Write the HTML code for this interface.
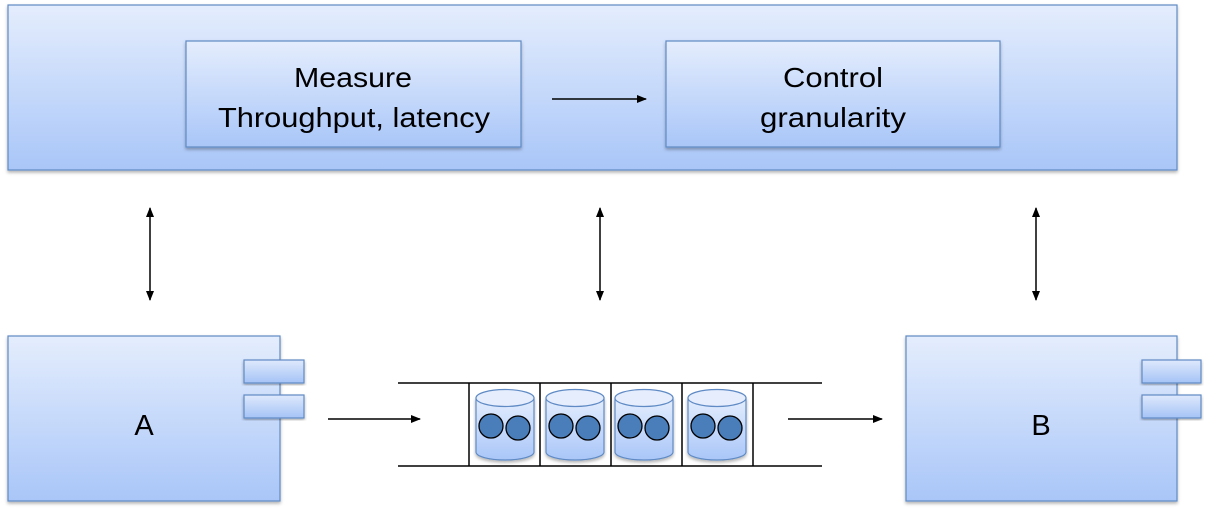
<!DOCTYPE html>
<html><head><meta charset="utf-8"><style>html,body{margin:0;padding:0;background:#fff}svg{display:block}</style></head>
<body>
<svg width="1210" height="514" viewBox="0 0 1210 514" xmlns="http://www.w3.org/2000/svg" font-family="Liberation Sans, sans-serif">
<defs>
<linearGradient id="g" x1="0" y1="0" x2="0" y2="1"><stop offset="0" stop-color="#e4edfd"/><stop offset="1" stop-color="#a9c6f8"/></linearGradient>
<linearGradient id="gp" x1="0" y1="0" x2="0" y2="1"><stop offset="0" stop-color="#dfe9fc"/><stop offset="1" stop-color="#a5c3f6"/></linearGradient>
<filter id="s" x="-5%" y="-5%" width="110%" height="115%"><feDropShadow dx="0" dy="2" stdDeviation="1.5" flood-color="#000" flood-opacity="0.3"/></filter>
<marker id="ah" viewBox="0 0 10 10" refX="9" refY="5" markerWidth="10" markerHeight="10" markerUnits="userSpaceOnUse" orient="auto-start-reverse"><path d="M0,1 L10,5 L0,9 z" fill="#000"/></marker>
</defs>
<rect x="8" y="5" width="1169" height="165" fill="url(#g)" stroke="#5f8ac4" stroke-width="1.2" filter="url(#s)"/>
<rect x="186" y="41" width="335" height="106" fill="url(#g)" stroke="#5f8ac4" stroke-width="1.2" filter="url(#s)"/>
<rect x="666" y="41" width="334" height="106" fill="url(#g)" stroke="#5f8ac4" stroke-width="1.2" filter="url(#s)"/>
<text x="294" y="87" font-size="28" textLength="118" lengthAdjust="spacingAndGlyphs">Measure</text>
<text x="218" y="127" font-size="28" textLength="272" lengthAdjust="spacingAndGlyphs">Throughput, latency</text>
<text x="783" y="87" font-size="28" textLength="100" lengthAdjust="spacingAndGlyphs">Control</text>
<text x="760" y="127" font-size="28" textLength="146" lengthAdjust="spacingAndGlyphs">granularity</text>
<g stroke="#000" stroke-width="1.5" fill="none">
<line x1="552" y1="99" x2="646" y2="99" marker-end="url(#ah)"/>
<line x1="150" y1="208" x2="150" y2="300" marker-start="url(#ah)" marker-end="url(#ah)"/>
<line x1="600" y1="208" x2="600" y2="300" marker-start="url(#ah)" marker-end="url(#ah)"/>
<line x1="1036" y1="208" x2="1036" y2="300" marker-start="url(#ah)" marker-end="url(#ah)"/>
<line x1="328" y1="419" x2="420" y2="419" marker-end="url(#ah)"/>
<line x1="788" y1="419" x2="882" y2="419" marker-end="url(#ah)"/>
</g>
<rect x="8" y="336" width="272" height="165" fill="url(#g)" stroke="#5f8ac4" stroke-width="1.2" filter="url(#s)"/>
<rect x="244" y="360" width="60" height="23" fill="url(#gp)" stroke="#5f8ac4" stroke-width="1.2" filter="url(#s)"/>
<rect x="244" y="395" width="60" height="23" fill="url(#gp)" stroke="#5f8ac4" stroke-width="1.2" filter="url(#s)"/>
<text x="144" y="435" font-size="29" text-anchor="middle">A</text>
<rect x="906" y="336" width="271" height="165" fill="url(#g)" stroke="#5f8ac4" stroke-width="1.2" filter="url(#s)"/>
<rect x="1142" y="360" width="59" height="23" fill="url(#gp)" stroke="#5f8ac4" stroke-width="1.2" filter="url(#s)"/>
<rect x="1142" y="395" width="59" height="23" fill="url(#gp)" stroke="#5f8ac4" stroke-width="1.2" filter="url(#s)"/>
<text x="1041" y="435" font-size="29" text-anchor="middle">B</text>
<g stroke="#000" stroke-width="1.5">
<line x1="398" y1="383" x2="822" y2="383"/>
<line x1="398" y1="466" x2="822" y2="466"/>
<line x1="469" y1="383" x2="469" y2="466"/>
<line x1="540" y1="383" x2="540" y2="466"/>
<line x1="611" y1="383" x2="611" y2="466"/>
<line x1="682" y1="383" x2="682" y2="466"/>
<line x1="753" y1="383" x2="753" y2="466"/>
</g>
<g id="cyl">
<path d="M476,398 L476,452 A29,8 0 0 0 534,452 L534,398 Z" fill="url(#g)" stroke="#5f8ac4" stroke-width="1.2" filter="url(#s)"/>
<ellipse cx="505" cy="398" rx="29" ry="8.5" fill="#e6eefd" stroke="#5f8ac4" stroke-width="1.2"/>
<circle cx="491" cy="426" r="12" fill="#4a7ebb" stroke="#000" stroke-width="1.3"/>
<circle cx="518" cy="428" r="12" fill="#4a7ebb" stroke="#000" stroke-width="1.3"/>
</g>
<use href="#cyl" x="70"/>
<use href="#cyl" x="139"/>
<use href="#cyl" x="212"/>
</svg>
</body></html>
